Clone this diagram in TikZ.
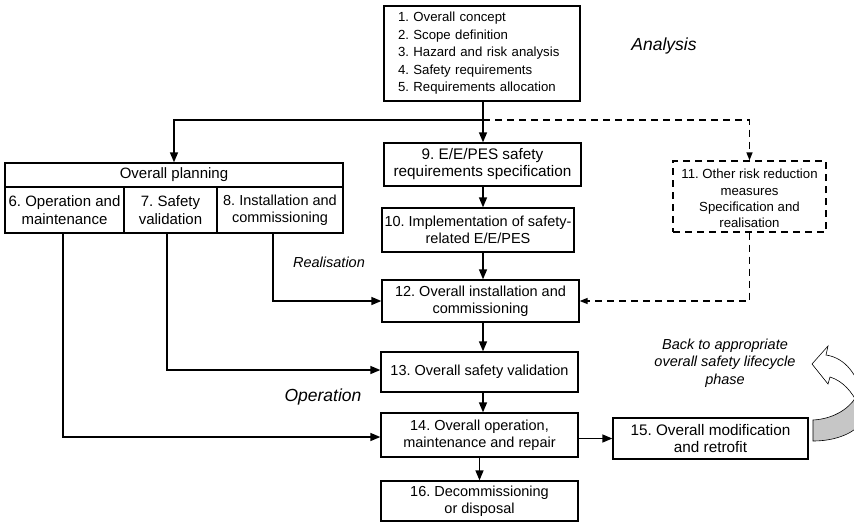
\documentclass[tikz,border=0pt]{standalone}
\usepackage{fontspec}
\setmainfont{Liberation Sans}
\usetikzlibrary{arrows.meta}
\frenchspacing
\begin{document}
\begin{tikzpicture}[x=1pt,y=-1pt,
  box/.style={draw, line width=1.3pt, align=center, inner sep=1pt, font=\fontsize{14.5}{17.5}\selectfont},
  smallbox/.style={box, font=\fontsize{13.2}{16.5}\selectfont},
  planbox/.style={box, font=\fontsize{15}{18}\selectfont},
  dbox/.style={draw, line width=1.3pt, dash pattern=on 7pt off 5pt},
  ln/.style={line width=1.4pt},
  arr/.style={line width=1.4pt, -{Triangle[length=10pt,width=8pt]}},
  darr/.style={line width=1.4pt, dash pattern=on 7pt off 5pt, -{Triangle[length=8pt,width=6pt]}},
  biglab/.style={font=\fontsize{17.5}{20}\selectfont\itshape},
  lab/.style={font=\fontsize{14.5}{17.5}\selectfont\itshape, align=center},
  txt/.style={font=\fontsize{13.2}{16.3}\selectfont, align=center}
]
\useasboundingbox (0,0) rectangle (854,522);

% main column
\node[smallbox, minimum width=196pt, minimum height=95pt, text width=168pt, align=left,
      font=\fontsize{13.2}{17.5}\selectfont] (b1) at (482,53.5)
  {1. Overall concept\\2. Scope definition\\3. Hazard and risk analysis\\4. Safety requirements\\5. Requirements allocation};
\node[box, minimum width=197pt, minimum height=43pt, font=\fontsize{15.3}{17}\selectfont] (b9) at (482.5,164.5) {9. E/E/PES safety\\requirements specification};
\node[box, minimum width=192pt, minimum height=44pt] (b10) at (478,230) {10. Implementation of safety-\\related E/E/PES};
\node[box, minimum width=197pt, minimum height=42pt] (b12) at (480.5,301) {12. Overall installation and\\commissioning};
\node[box, minimum width=197pt, minimum height=40pt] (b13) at (479.5,372) {13. Overall safety validation};
\node[box, minimum width=197pt, minimum height=44pt] (b14) at (479.5,435) {14. Overall operation,\\maintenance and repair};
\node[box, minimum width=197pt, minimum height=40pt] (b16) at (479.5,501) {16. Decommissioning\\or disposal};
\node[box, minimum width=195pt, minimum height=41pt, font=\fontsize{15.3}{17.5}\selectfont] (b15) at (710.5,438.5) {15. Overall modification\\and retrofit};
\node[dbox, minimum width=153pt, minimum height=71pt] (b11) at (749.5,196.5) {};
\node[txt] (t11) at (749.5,198.5) {11. Other risk reduction\\measures\\Specification and\\realisation};

% planning
\node[planbox, minimum width=338pt, minimum height=24pt] (plan) at (174,175) {Overall planning};
\node[planbox, minimum width=119pt, minimum height=46pt] (p6) at (64.5,210) {6. Operation and\\maintenance};
\node[planbox, minimum width=93pt, minimum height=46pt] (p7) at (170.5,210) {7. Safety\\validation};
\node[box, minimum width=126pt, minimum height=46pt] (p8) at (280,210) {8. Installation and\\commissioning};

% labels
\node[biglab] (lana) at (664,46) {Analysis};
\node[lab] (lreal) at (329,262) {Realisation};
\node[biglab] (lop) at (323,397) {Operation};
\node[lab] (lback) at (725,363) {Back to appropriate\\overall safety lifecycle\\phase};

% connectors
\coordinate (J) at (483,120);
\draw[ln] (b1.south -| J) -- (J);
\draw[arr] (J) -| (plan.north);
\draw[arr] (J) -- (b9.north -| J);
\draw[darr] (J) -| (b11.north);
\draw[arr] (b9.south -| J) -- (b10.north -| J);
\draw[arr] (b10.south -| J) -- (b12.north -| J);
\draw[arr] (b12.south -| J) -- (b13.north -| J);
\draw[arr] (b13.south -| J) -- (b14.north -| J);
\draw[arr] (b14.south) -- (b16.north);
\draw[arr] (b14.east |- b15.west) -- (b15.west);
\draw[arr] ([xshift=-7pt]p8.south) |- (b12.west);
\draw[arr] ([xshift=-3.5pt]p7.south) |- ([yshift=2pt]b13.west);
\draw[arr] ([xshift=-1.5pt]p6.south) |- ([yshift=-2pt]b14.west);
\draw[darr] (b11.south) |- (b12.east);

% curved return arrow
\begin{scope}
\clip (0,0) rectangle (854,522);
\filldraw[fill=gray!45, draw=black, line width=0.6pt]
  (813,420) .. controls (832,419) and (848,410) .. (856,397)
  -- (860,425) .. controls (850,435) and (833,441) .. (813,441) -- cycle;
\filldraw[fill=white, draw=black, line width=0.6pt]
  (812,364) -- (828,346) -- (826,355) .. controls (846,358) and (858,376) .. (862,396)
  -- (858,404) .. controls (852,392) and (843,381) .. (830,377) -- (828,384) -- cycle;
\end{scope}
\end{tikzpicture}
\end{document}
